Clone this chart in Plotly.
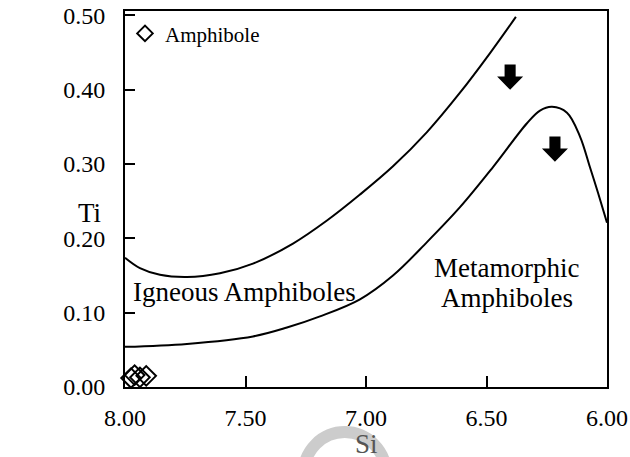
import plotly.graph_objects as go

# ---- data ----
upper_si = [8.000, 7.938, 7.855, 7.743, 7.606, 7.469, 7.303, 7.162, 7.025, 6.888, 6.747, 6.610, 6.486, 6.378]
upper_ti = [0.174, 0.160, 0.151, 0.148, 0.153, 0.166, 0.193, 0.224, 0.259, 0.297, 0.343, 0.396, 0.449, 0.498]

lower_si = [8.000, 7.743, 7.469, 7.328, 7.191, 7.025, 6.888, 6.747, 6.610, 6.473, 6.332, 6.278, 6.228, 6.166, 6.112, 6.071, 6.037, 6.000]
lower_ti = [0.054, 0.058, 0.068, 0.080, 0.095, 0.118, 0.150, 0.195, 0.242, 0.296, 0.355, 0.372, 0.377, 0.369, 0.337, 0.296, 0.261, 0.221]

amph_si = [7.975, 7.960, 7.938, 7.912]
amph_ti = [0.012, 0.016, 0.013, 0.015]

arrow_si = [6.402, 6.216]
arrow_top = [0.434, 0.337]

x_ticks = [8.00, 7.50, 7.00, 6.50, 6.00]
x_ticklabels = ["8.00", "7.50", "7.00", "6.50", "6.00"]
y_ticks = [0.0, 0.1, 0.2, 0.3, 0.4, 0.5]
y_ticklabels = ["0.00", "0.10", "0.20", "0.30", "0.40", "0.50"]

FONT = "Liberation Serif"

fig = go.Figure()

fig.add_trace(go.Scatter(x=upper_si, y=upper_ti, mode="lines",
                         line=dict(color="black", width=2, shape="spline", smoothing=1.0),
                         showlegend=False, hoverinfo="skip"))
fig.add_trace(go.Scatter(x=lower_si, y=lower_ti, mode="lines",
                         line=dict(color="black", width=2, shape="spline", smoothing=1.0),
                         showlegend=False, hoverinfo="skip"))
fig.add_trace(go.Scatter(x=amph_si, y=amph_ti, mode="markers", name="Amphibole",
                         marker=dict(symbol="diamond-open", size=15, color="black",
                                     line=dict(color="black", width=2)),
                         cliponaxis=False))

# arrows (filled, pointing down)
hw_head, hw_shaft = 0.054, 0.023
h_total, h_shaft = 0.034, 0.016
for sx, ty in zip(arrow_si, arrow_top):
    path = (f"M {sx-hw_shaft} {ty} L {sx+hw_shaft} {ty} L {sx+hw_shaft} {ty-h_shaft} "
            f"L {sx+hw_head} {ty-h_shaft} L {sx} {ty-h_total} L {sx-hw_head} {ty-h_shaft} "
            f"L {sx-hw_shaft} {ty-h_shaft} Z")
    fig.add_shape(type="path", path=path, xref="x", yref="y",
                  fillcolor="black", line=dict(color="black", width=0))

# faint watermark ring near the Si label
fig.add_shape(type="circle", xref="paper", yref="paper",
              x0=0.371, x1=0.541, y0=-0.338, y1=-0.120,
              line=dict(color="#cccccc", width=12), layer="below")

fig.add_annotation(x=7.504, y=0.1273, text="Igneous Amphiboles", showarrow=False,
                   font=dict(family=FONT, size=27, color="black"))
fig.add_annotation(x=6.417, y=0.1596, text="Metamorphic", showarrow=False,
                   font=dict(family=FONT, size=27, color="black"))
fig.add_annotation(x=6.417, y=0.1192, text="Amphiboles", showarrow=False,
                   font=dict(family=FONT, size=27, color="black"))
fig.add_annotation(xref="paper", yref="paper", x=-0.102, y=0.463, text="Ti",
                   showarrow=False, font=dict(family=FONT, size=27, color="black"))
fig.add_annotation(xref="paper", yref="paper", x=0.5, y=-0.196, text="Si",
                   showarrow=False, font=dict(family=FONT, size=27, color="#555555"))

fig.update_xaxes(range=[8.0, 6.0], tickvals=x_ticks, ticktext=x_ticklabels,
                 showline=True, linecolor="black", linewidth=2, mirror=True,
                 ticks="inside", ticklen=11, tickwidth=2, tickcolor="black",
                 showgrid=False, zeroline=False, ticklabelstandoff=8, automargin=False,
                 tickfont=dict(family=FONT, size=24, color="black"))
fig.update_yaxes(range=[0.0, 0.506], tickvals=y_ticks, ticktext=y_ticklabels,
                 showline=True, linecolor="black", linewidth=2, mirror=True,
                 ticks="inside", ticklen=10, tickwidth=2, tickcolor="black",
                 showgrid=False, zeroline=False, ticklabelstandoff=13, automargin=False,
                 tickfont=dict(family=FONT, size=24, color="black"))

fig.update_layout(width=630, height=457,
                  margin=dict(l=125, r=23, t=11, b=70, autoexpand=False),
                  paper_bgcolor="white", plot_bgcolor="white",
                  showlegend=True,
                  legend=dict(x=0.0, y=0.994, xanchor="left", yanchor="top",
                              bgcolor="rgba(0,0,0,0)", borderwidth=0,
                              font=dict(family=FONT, size=21, color="black"),
                              itemsizing="constant"))

# remove the browser's default 8px body margin so the figure fills the window
fig.write_html("out.html", config={"displayModeBar": False},
               post_script="document.body.style.margin='0';")
